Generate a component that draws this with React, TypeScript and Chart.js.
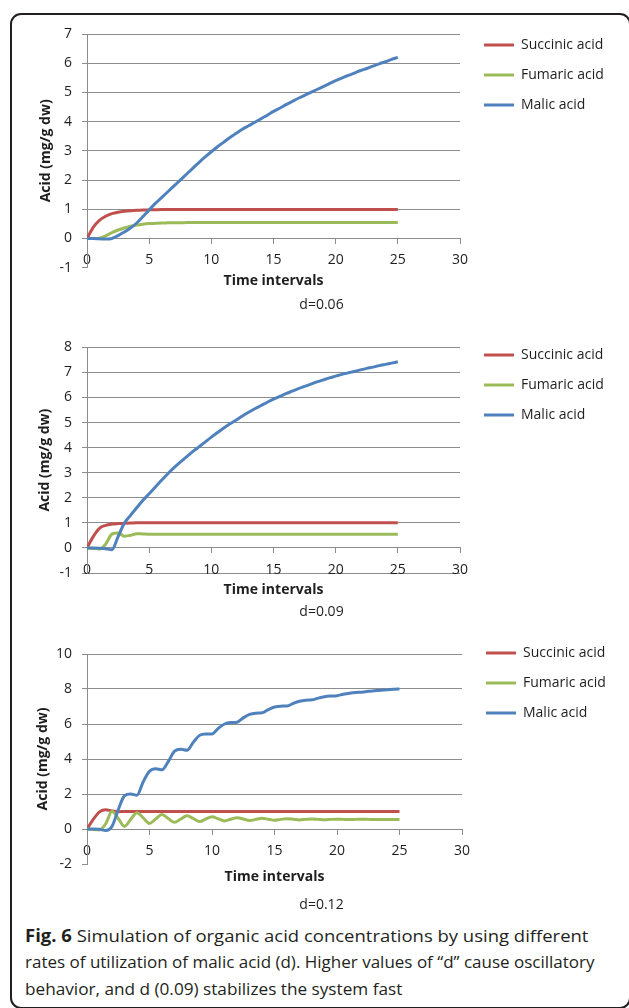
import React, { useEffect, useLayoutEffect, useRef } from 'react';
import { Chart, registerables } from 'chart.js';

Chart.register(...registerables);

const FONT = "'Open Sans', 'Noto Sans', sans-serif";
const TEXT = '#1e1e1e';
const GRID = '#8c8c8c';

// ---------- data ----------
const TIME_STEPS = [
  0, 0.5, 1, 1.5, 2, 2.5, 3, 3.5, 4, 4.5,
  5, 5.5, 6, 6.5, 7, 7.5, 8, 8.5, 9, 9.5,
  10, 10.5, 11, 11.5, 12, 12.5, 13, 13.5, 14, 14.5,
  15, 15.5, 16, 16.5, 17, 17.5, 18, 18.5, 19, 19.5,
  20, 20.5, 21, 21.5, 22, 22.5, 23, 23.5, 24, 24.5, 25,
];

const SERIES_NAMES = ['Succinic acid', 'Fumaric acid', 'Malic acid'];
const SERIES_COLORS = ['#C0504D', '#9BBB59', '#4F81BD'];

// d = 0.06
const SUCCINIC_D006 = [
  0, 0.38, 0.62, 0.76, 0.85, 0.9, 0.93, 0.95, 0.965, 0.975,
  0.98, 0.985, 0.99, 0.99, 0.99, 0.99, 0.99, 0.99, 0.99, 0.99,
  0.99, 0.99, 0.99, 0.99, 0.99, 0.99, 0.99, 0.99, 0.99, 0.99,
  0.99, 0.99, 0.99, 0.99, 0.99, 0.99, 0.99, 0.99, 0.99, 0.99,
  0.99, 0.99, 0.99, 0.99, 0.99, 0.99, 0.99, 0.99, 0.99, 0.99, 0.99,
];
const FUMARIC_D006 = [
  0, 0, 0.01, 0.09, 0.2, 0.29, 0.36, 0.42, 0.46, 0.49,
  0.51, 0.52, 0.53, 0.535, 0.54, 0.54, 0.545, 0.545, 0.55, 0.55,
  0.55, 0.55, 0.55, 0.55, 0.55, 0.55, 0.55, 0.55, 0.55, 0.55,
  0.55, 0.55, 0.55, 0.55, 0.55, 0.55, 0.55, 0.55, 0.55, 0.55,
  0.55, 0.55, 0.55, 0.55, 0.55, 0.55, 0.55, 0.55, 0.55, 0.55, 0.55,
];
const MALIC_D006 = [
  0, 0, -0.01, -0.02, 0, 0.1, 0.22, 0.36, 0.53, 0.75,
  0.98, 1.2, 1.4, 1.6, 1.8, 2.0, 2.2, 2.4, 2.6, 2.79,
  2.97, 3.14, 3.3, 3.46, 3.6, 3.74, 3.86, 3.98, 4.1, 4.22,
  4.35, 4.46, 4.58, 4.69, 4.8, 4.9, 5.0, 5.1, 5.2, 5.3,
  5.4, 5.49, 5.58, 5.66, 5.75, 5.82, 5.9, 5.98, 6.05, 6.13, 6.2,
];

// d = 0.09
const SUCCINIC_D009 = [
  0, 0.45, 0.78, 0.9, 0.95, 0.97, 0.98, 0.99, 1, 1,
  1, 1, 1, 1, 1, 1, 1, 1, 1, 1,
  1, 1, 1, 1, 1, 1, 1, 1, 1, 1,
  1, 1, 1, 1, 1, 1, 1, 1, 1, 1,
  1, 1, 1, 1, 1, 1, 1, 1, 1, 1, 1,
];
const FUMARIC_D009 = [
  0, -0.02, -0.04, 0.15, 0.55, 0.6, 0.47, 0.5, 0.57, 0.56,
  0.55, 0.55, 0.55, 0.55, 0.55, 0.55, 0.55, 0.55, 0.55, 0.55,
  0.55, 0.55, 0.55, 0.55, 0.55, 0.55, 0.55, 0.55, 0.55, 0.55,
  0.55, 0.55, 0.55, 0.55, 0.55, 0.55, 0.55, 0.55, 0.55, 0.55,
  0.55, 0.55, 0.55, 0.55, 0.55, 0.55, 0.55, 0.55, 0.55, 0.55, 0.55,
];
const MALIC_D009 = [
  0, 0, -0.01, -0.03, -0.07, 0.45, 0.98, 1.3, 1.6, 1.9,
  2.16, 2.43, 2.7, 2.96, 3.2, 3.42, 3.63, 3.84, 4.03, 4.22,
  4.42, 4.6, 4.78, 4.95, 5.1, 5.26, 5.41, 5.55, 5.68, 5.81,
  5.93, 6.04, 6.15, 6.25, 6.35, 6.44, 6.53, 6.62, 6.7, 6.78,
  6.85, 6.92, 6.98, 7.04, 7.1, 7.16, 7.21, 7.27, 7.32, 7.37, 7.42,
];

// d = 0.12
const SUCCINIC_D012 = [
  0, 0.55, 0.98, 1.1, 1.03, 0.99, 1, 1, 1, 1,
  1, 1, 1, 1, 1, 1, 1, 1, 1, 1,
  1, 1, 1, 1, 1, 1, 1, 1, 1, 1,
  1, 1, 1, 1, 1, 1, 1, 1, 1, 1,
  1, 1, 1, 1, 1, 1, 1, 1, 1, 1, 1,
];
const FUMARIC_D012 = [
  0, -0.03, -0.05, 0.3, 1.02, 0.6, 0.15, 0.55, 0.93, 0.63,
  0.32, 0.58, 0.83, 0.6, 0.38, 0.57, 0.76, 0.6, 0.43, 0.57,
  0.7, 0.58, 0.46, 0.56, 0.65, 0.57, 0.48, 0.55, 0.61, 0.56,
  0.5, 0.55, 0.59, 0.56, 0.52, 0.55, 0.57, 0.55, 0.53, 0.55,
  0.56, 0.55, 0.54, 0.55, 0.56, 0.55, 0.54, 0.55, 0.55, 0.55, 0.55,
];
const MALIC_D012 = [
  0, 0, -0.02, -0.08, 0.15, 1.1, 1.9, 2.0, 1.93, 2.7,
  3.3, 3.45, 3.38, 3.85, 4.45, 4.56, 4.5, 4.95, 5.35, 5.43,
  5.43, 5.75, 6.0, 6.08, 6.1, 6.35, 6.55, 6.62, 6.64, 6.82,
  6.97, 7.02, 7.03, 7.18, 7.3, 7.36, 7.38, 7.48, 7.56, 7.6,
  7.62, 7.7, 7.76, 7.8, 7.82, 7.87, 7.9, 7.93, 7.95, 7.98, 8.0,
];

const PANEL_LABELS = ['d=0.06', 'd=0.09', 'd=0.12'];
const PANEL_SERIES = [
  [SUCCINIC_D006, FUMARIC_D006, MALIC_D006],
  [SUCCINIC_D009, FUMARIC_D009, MALIC_D009],
  [SUCCINIC_D012, FUMARIC_D012, MALIC_D012],
];
const Y_RANGES = [
  { min: -1, max: 7, step: 1 },
  { min: -1, max: 8, step: 1 },
  { min: -2, max: 10, step: 2 },
];
const X_RANGE = { min: 0, max: 30, step: 5 };
const X_TITLE = 'Time intervals';
const Y_TITLE = 'Acid (mg/g dw)';

const CAPTION_BOLD = 'Fig. 6';
const CAPTION_LINES = [
  ' Simulation of organic acid concentrations by using different',
  'rates of utilization of malic acid (d). Higher values of \u201cd\u201d cause oscillatory',
  'behavior, and d (0.09) stabilizes the system fast',
];

// ---------- layout (page pixels) ----------
const CANVAS_LEFT = 10;
const CANVAS_WIDTH = 623;
const LEGEND_WIDTH = 100;
const LAYOUT = [
  { top: 13, height: 305, padTop: 21, padBottom: 0.6, plotRight: 460, yTitlePad: 27.6, xTitlePad: 4.7, labelPad: 7.4, legendDy: -12, bottomGrid: false },
  { top: 326, height: 299, padTop: 21.3, padBottom: 0.6, plotRight: 460, yTitlePad: 26.9, xTitlePad: 9.1, labelPad: 4.7, legendDy: -15.3, bottomGrid: true },
  { top: 633, height: 285, padTop: 21, padBottom: 0.1, plotRight: 462, yTitlePad: 24.9, xTitlePad: 5.1, labelPad: 11.2, legendDy: -24, bottomGrid: false },
];
const CAPTION_TOPS = [921.6, 948.2, 974.6];
const CAPTION_WIDTHS = [563, 570, 377];

const legendPlacer = {
  id: 'legendPlacer',
  afterLayout(chart: any, _args: any, opts: any) {
    const lg = chart.legend;
    if (!lg || !chart.chartArea) return;
    const h = lg.bottom - lg.top;
    lg.left = chart.chartArea.right + opts.gapX;
    lg.right = lg.left + 200;
    lg.width = 200;
    lg.top = chart.chartArea.top + opts.dy;
    lg.bottom = lg.top + h;
    lg.height = h;
  },
};

function buildConfig(i: number): any {
  const L = LAYOUT[i];
  const yr = Y_RANGES[i];
  const series = PANEL_SERIES[i];
  const tickFont = { family: FONT, size: 14 };
  const datasets = series.map((vals, k) => ({
    label: SERIES_NAMES[k],
    data: TIME_STEPS.map((t, j) => ({ x: t, y: vals[j] })),
    borderColor: SERIES_COLORS[k],
    backgroundColor: SERIES_COLORS[k],
    borderWidth: 3,
    pointRadius: 0,
    pointHoverRadius: 0,
    fill: false,
    cubicInterpolationMode: 'monotone',
    order: 2 - k,
    xAxisID: 'x',
    yAxisID: 'y',
  }));
  const rightAxisWidth = CANVAS_LEFT + CANVAS_WIDTH - LEGEND_WIDTH - L.plotRight;
  return {
    type: 'line',
    data: { datasets },
    plugins: [legendPlacer],
    options: {
      responsive: false,
      maintainAspectRatio: false,
      animation: false,
      events: [],
      layout: { padding: { top: L.padTop, bottom: L.padBottom, left: 0, right: 0 } },
      scales: {
        x: {
          type: 'linear',
          position: { y: 0 },
          min: X_RANGE.min,
          max: X_RANGE.max,
          ticks: { stepSize: X_RANGE.step, padding: 8.6, font: tickFont, color: TEXT, maxRotation: 0, autoSkip: false },
          grid: { display: true, drawOnChartArea: false, drawTicks: true, tickLength: 5, color: GRID, tickColor: GRID },
          border: { display: true, color: GRID, width: 1 },
          title: { display: false },
        },
        x2: {
          type: 'linear',
          position: 'bottom',
          display: true,
          min: X_RANGE.min,
          max: X_RANGE.max,
          ticks: { display: false },
          grid: { display: false, drawTicks: false },
          border: { display: false },
          title: {
            display: true,
            text: X_TITLE,
            font: { family: FONT, size: 14, weight: 'bold' },
            color: TEXT,
            padding: { top: L.xTitlePad, bottom: 0 },
          },
        },
        y: {
          type: 'linear',
          position: 'left',
          min: yr.min,
          max: yr.max,
          ticks: { stepSize: yr.step, padding: 10, font: tickFont, color: TEXT },
          grid: {
            display: true,
            drawTicks: true,
            tickLength: 5,
            tickColor: GRID,
            color: (ctx: any) =>
              !L.bottomGrid && ctx.tick && ctx.tick.value === yr.min ? 'rgba(0,0,0,0)' : GRID,
          },
          border: { display: true, color: GRID, width: 1 },
          title: {
            display: true,
            text: Y_TITLE,
            font: { family: FONT, size: 14, weight: 'bold' },
            color: TEXT,
            padding: { top: L.yTitlePad, bottom: 0 },
          },
          afterFit: (s: any) => {
            s.width = 77;
          },
        },
        yR: {
          type: 'linear',
          position: 'right',
          display: true,
          ticks: { display: false },
          grid: { display: false, drawTicks: false },
          border: { display: false },
          title: { display: false },
          afterFit: (s: any) => {
            s.width = rightAxisWidth;
          },
        },
      },
      plugins: {
        legend: {
          display: true,
          position: 'right',
          align: 'start',
          maxWidth: LEGEND_WIDTH,
          labels: {
            usePointStyle: true,
            pointStyle: 'line',
            pointStyleWidth: 30,
            padding: 16,
            font: { family: FONT, size: 14 },
            color: TEXT,
            sort: (a: any, b: any) => a.datasetIndex - b.datasetIndex,
          },
        },
        legendPlacer: { gapX: 8, dy: L.legendDy },
        title: {
          display: true,
          position: 'bottom',
          text: PANEL_LABELS[i],
          font: { family: FONT, size: 14, weight: 'normal' },
          color: TEXT,
          padding: { top: L.labelPad, bottom: 4 },
        },
        tooltip: { enabled: false },
      },
    },
  };
}

export default function App() {
  const c0 = useRef<HTMLCanvasElement | null>(null);
  const c1 = useRef<HTMLCanvasElement | null>(null);
  const c2 = useRef<HTMLCanvasElement | null>(null);
  const t0 = useRef<HTMLSpanElement | null>(null);
  const t1 = useRef<HTMLSpanElement | null>(null);
  const t2 = useRef<HTMLSpanElement | null>(null);
  const canvasRefs = [c0, c1, c2];
  const textRefs = [t0, t1, t2];

  useEffect(() => {
    const charts = canvasRefs.map((r, i) => new Chart(r.current as HTMLCanvasElement, buildConfig(i)));
    return () => charts.forEach((c) => c.destroy());
  }, []);

  useLayoutEffect(() => {
    textRefs.forEach((r, i) => {
      const el = r.current;
      if (!el) return;
      el.style.transform = 'none';
      const w = el.offsetWidth;
      if (w > 0) el.style.transform = `scaleX(${CAPTION_WIDTHS[i] / w})`;
    });
  }, []);

  return (
    <div style={{ position: 'absolute', left: 0, top: 0, width: 629, height: 1008, overflow: 'hidden', background: '#fff' }}>
      <div
        style={{
          position: 'absolute',
          left: 10,
          top: 13,
          width: 621,
          height: 996,
          border: '2px solid #231f20',
          borderRadius: 11,
          boxSizing: 'border-box',
        }}
      />
      {LAYOUT.map((L, i) => (
        <canvas
          key={i}
          ref={canvasRefs[i]}
          width={CANVAS_WIDTH}
          height={L.height}
          style={{ position: 'absolute', left: CANVAS_LEFT, top: L.top, width: CANVAS_WIDTH, height: L.height }}
        />
      ))}
      {CAPTION_LINES.map((line, i) => (
        <div
          key={i}
          style={{
            position: 'absolute',
            left: 25,
            top: CAPTION_TOPS[i],
            fontFamily: FONT,
            fontSize: 17,
            lineHeight: '27px',
            color: '#231f20',
            whiteSpace: 'nowrap',
          }}
        >
          <span ref={textRefs[i]} style={{ display: 'inline-block', transformOrigin: 'left center' }}>
            {i === 0 ? <b>{CAPTION_BOLD}</b> : null}
            {line}
          </span>
        </div>
      ))}
    </div>
  );
}
